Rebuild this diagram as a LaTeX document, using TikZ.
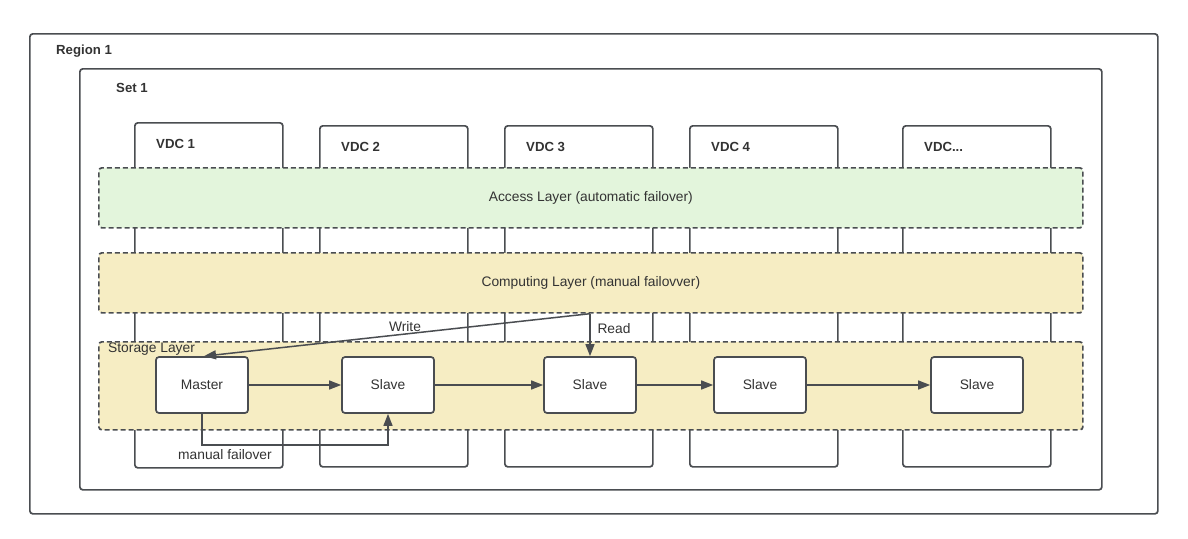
\documentclass[tikz,border=0pt]{standalone}
\usepackage{fontspec}
\setmainfont{Liberation Sans}
\usetikzlibrary{arrows.meta}
\definecolor{bd}{HTML}{4A4D51}
\definecolor{txt}{HTML}{333333}
\definecolor{accessfill}{HTML}{E3F5DC}
\definecolor{layerfill}{HTML}{F6EDC3}
\tikzset{
  frame/.style={draw=bd, line width=1.7pt, rounded corners=3pt, fill=white, inner sep=0pt, anchor=north west},
  layer/.style={draw=bd, line width=1.7pt, dash pattern=on 5pt off 3pt, rounded corners=3pt, inner sep=0pt, anchor=north west},
  node box/.style={draw=bd, line width=1.7pt, rounded corners=3pt, fill=white, minimum width=92pt, minimum height=56pt, inner sep=0pt, text=txt, font=\fontsize{13.8}{16}\selectfont},
  title/.style={text=txt, font=\fontsize{13.2}{16}\bfseries\selectfont, anchor=base west, inner sep=0pt},
  plain/.style={text=txt, font=\fontsize{13.8}{16}\selectfont, inner sep=0pt},
  arr/.style={draw=bd, line width=1.5pt, -{Triangle[length=12pt,width=9pt]}},
}
\begin{document}
\begin{tikzpicture}[x=1pt,y=-1pt]
\useasboundingbox (0,0) rectangle (1188,538);
% outer frames
\node[frame, minimum width=1128pt, minimum height=480pt] (region) at (29,33) {};
\node[title] (regionlbl) at (56,54) {Region 1};
\node[frame, minimum width=1022pt, minimum height=421pt] (set) at (79,68) {};
\node[title] (setlbl) at (116,92) {Set 1};
% VDC columns
\node[frame, minimum width=148pt, minimum height=345pt] (vdc1) at (134,122) {};
\node[frame, minimum width=148pt, minimum height=341pt] (vdc2) at (319,125) {};
\node[frame, minimum width=148pt, minimum height=341pt] (vdc3) at (504,125) {};
\node[frame, minimum width=148pt, minimum height=341pt] (vdc4) at (689,125) {};
\node[frame, minimum width=148pt, minimum height=341pt] (vdc5) at (902,125) {};
\node[title] (vdc1lbl) at (156,148) {VDC 1};
\node[title] (vdc2lbl) at (341,151) {VDC 2};
\node[title] (vdc3lbl) at (526,151) {VDC 3};
\node[title] (vdc4lbl) at (711,151) {VDC 4};
\node[title] (vdc5lbl) at (924,151) {VDC...};
% layers
\node[layer, fill=accessfill, minimum width=984pt, minimum height=60pt] (access) at (98,167) {};
\node[plain] (accesslbl) at (access.center) {Access Layer (automatic failover)};
\node[layer, fill=layerfill, minimum width=984pt, minimum height=60pt] (comp) at (98,252) {};
\node[plain] (complbl) at (comp.center) {Computing Layer (manual failovver)};
\node[layer, fill=layerfill, minimum width=984pt, minimum height=88pt] (storage) at (98,341) {};
\node[plain, anchor=west] (storagelbl) at (108,349) {Storage Layer};
% storage nodes
\node[node box] (master) at (202,385) {Master};
\node[node box] (slave1) at (388,385) {Slave};
\node[node box] (slave2) at (590,385) {Slave};
\node[node box] (slave3) at (760,385) {Slave};
\node[node box] (slave4) at (977,385) {Slave};
% replication arrows
\draw[arr] (master) -- (slave1);
\draw[arr] (slave1) -- (slave2);
\draw[arr] (slave2) -- (slave3);
\draw[arr] (slave3) -- (slave4);
% read / write
\coordinate (src) at (slave2.north |- comp.south);
\draw[arr] (src) -- (slave2.north);
\draw[arr] (src) -- ([xshift=2pt]master.north);
\node[plain] (writelbl) at (405,327) {Write};
\node[plain] (readlbl) at (614,329) {Read};
% manual failover
\draw[arr] (master.south) -- ++(0,31) -| (slave1.south);
\node[plain] (failoverlbl) at (225,455) {manual failover};
\end{tikzpicture}
\end{document}
